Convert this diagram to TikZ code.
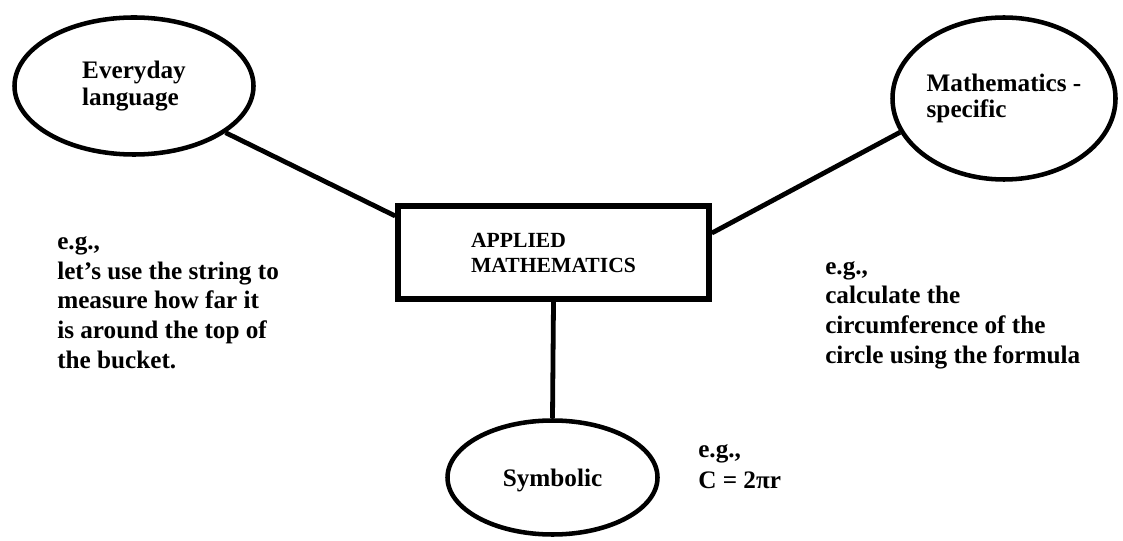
\documentclass[tikz,border=0pt]{standalone}
\usepackage{fontspec}
\setmainfont{Liberation Serif}
\usetikzlibrary{shapes.geometric}

\begin{document}
\begin{tikzpicture}[
  x=0.75pt,y=-0.75pt,
  bubble/.style={draw=black,ellipse,line width=3.4pt,inner sep=0pt,
    align=left,font=\fontsize{18.9}{20}\selectfont\bfseries},
  hub/.style={draw=black,rectangle,line width=4.2pt,inner sep=0pt,
    minimum width=233.25pt,minimum height=69.75pt,
    align=left,font=\fontsize{16.2}{18.75}\selectfont\bfseries},
  example/.style={anchor=base west,align=left,inner sep=0pt,
    font=\fontsize{18.9}{22.2}\selectfont\bfseries},
  spoke/.style={line width=3.6pt,draw=black}
]
\useasboundingbox (0,0) rectangle (1123,541);
\node[bubble,minimum width=179.25pt,minimum height=102.75pt] (everyday) at (134,86)
  {Everyday\\language};
\node[bubble,minimum width=167.25pt,minimum height=121.5pt] (specific) at (1004,98.5)
  {Mathematics -\\specific};
\node[hub] (applied) at (553.5,252.5) {APPLIED\\MATHEMATICS};
\node[bubble,minimum width=157.5pt,minimum height=85.5pt,text depth=0pt] (symbolic) at (552.5,477.5)
  {Symbolic};
\draw[spoke] (everyday.-27) -- (applied.167);
\draw[spoke] (specific.198) -- (applied.7);
\draw[spoke] (applied.south) -- (symbolic.north);

\node[example] (egeveryday) at (57,368) {e.g.,\\let’s use the string to\\measure how far it\\is around the top of\\the bucket.};
\node[example] (egspecific) at (825,363) {e.g.,\\calculate the\\circumference of the\\circle using the formula};
\node[example,font=\fontsize{18.9}{23.2}\selectfont\bfseries] (egsymbolic) at (698,488) {e.g.,\\C = 2πr};
\end{tikzpicture}
\end{document}
